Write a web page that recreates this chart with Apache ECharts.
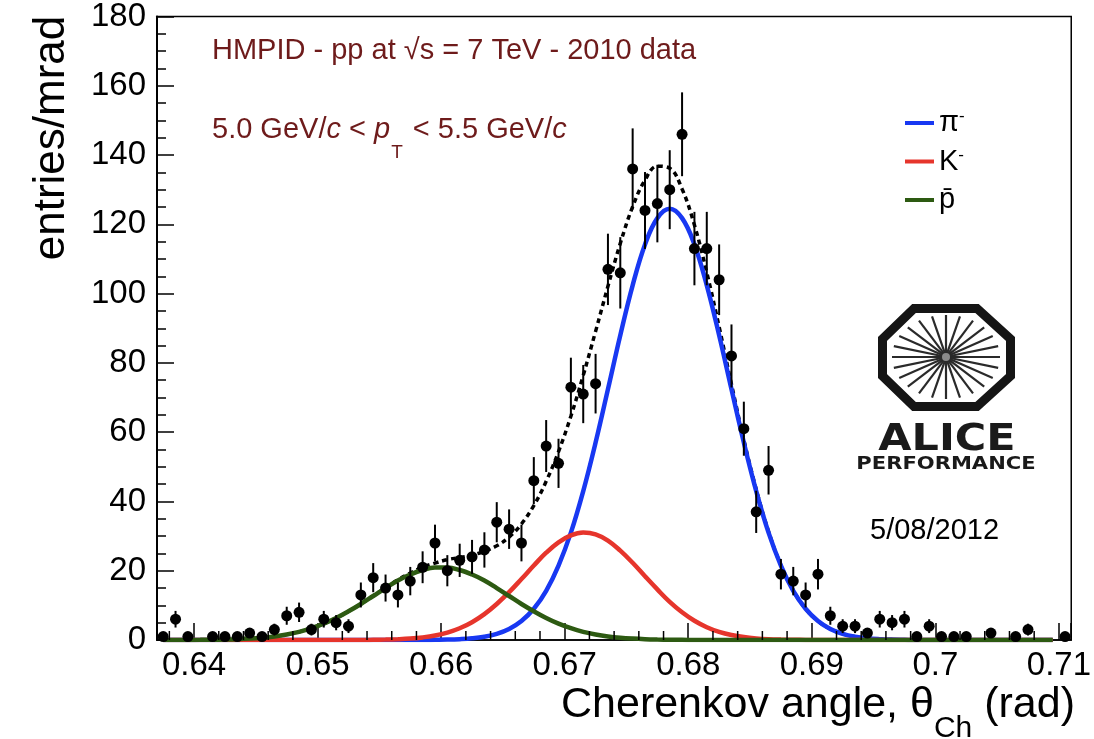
<!DOCTYPE html>
<html><head><meta charset="utf-8">
<script src="https://cdn.jsdelivr.net/npm/echarts@6/dist/echarts.min.js"></script>
<style>html,body{margin:0;padding:0;background:#fff}#c{width:1094px;height:739px}</style>
</head><body><div id="c"></div>
<script>
// Bin centres (rad), 1 mrad bins
const binCenters = [0.6375,0.6385,0.6395,0.6405,0.6415,0.6425,0.6435,0.6445,0.6455,0.6465,
  0.6475,0.6485,0.6495,0.6505,0.6515,0.6525,0.6535,0.6545,0.6555,0.6565,
  0.6575,0.6585,0.6595,0.6605,0.6615,0.6625,0.6635,0.6645,0.6655,0.6665,
  0.6675,0.6685,0.6695,0.6705,0.6715,0.6725,0.6735,0.6745,0.6755,0.6765,
  0.6775,0.6785,0.6795,0.6805,0.6815,0.6825,0.6835,0.6845,0.6855,0.6865,
  0.6875,0.6885,0.6895,0.6905,0.6915,0.6925,0.6935,0.6945,0.6955,0.6965,
  0.6975,0.6985,0.6995,0.7005,0.7015,0.7025,0.7035,0.7045,0.7055,0.7065,
  0.7075,0.7085,0.7095,0.7105];
// entries per bin
const counts = [1,6,1,0,1,1,1,2,1,3,
  7,8,3,6,5,4,13,18,15,13,
  17,21,28,20,23,24,26,34,32,28,
  46,56,51,73,71,74,107,106,136,124,
  126,130,146,113,113,104,82,61,37,49,
  19,17,13,19,7,4,4,2,6,5,
  6,1,4,1,1,1,0,2,0,1,
  3,0,0,1];
// statistical errors
const errors = [1,2.4,1,0,1,1,1,1.4,1,1.7,
  2.6,2.8,1.7,2.4,2.2,2,3.6,4.2,3.9,3.6,
  4.1,4.6,5.3,4.5,4.8,4.9,5.1,5.8,5.7,5.3,
  6.8,7.5,7.1,8.5,8.4,8.6,10.3,10.3,11.7,11.1,
  11.2,11.4,12.1,10.6,10.6,10.2,9.1,7.8,6.1,7,
  4.4,4.1,3.6,4.4,2.6,2,2,1.4,2.4,2.2,
  2.4,1,2,1,1,1,0,1.4,0,1,
  1.7,0,0,1];
// fitted curves read at the first 73 bin centres
const fitPion = [0,0,0,0,0,0,0,0,0,0,
  0,0,0,0,0,0,0,0,0,0,
  0,0,0.05,0.11,0.24,0.48,0.94,1.77,3.18,5.47,
  9.01,14.2,21.5,31.0,43.0,57.0,72.4,88.0,102.4,114.2,
  121.8,124.5,121.8,114.2,102.4,88.0,72.4,57.0,43.0,31.0,
  21.5,14.2,9.01,5.47,3.18,1.77,0.94,0.48,0.24,0.11,
  0.05,0,0,0,0,0,0,0,0,0,
  0,0,0];
const fitKaon = [0,0,0,0,0,0,0,0,0,0,
  0,0,0,0,0,0,0,0.05,0.11,0.22,
  0.41,0.75,1.29,2.14,3.39,5.14,7.47,10.4,13.8,17.6,
  21.5,25.2,28.2,30.2,31.0,30.5,28.7,25.8,22.3,18.4,
  14.6,11.0,8.0,5.56,3.70,2.35,1.43,0.84,0.47,0.25,
  0.13,0.06,0.03,0,0,0,0,0,0,0,
  0,0,0,0,0,0,0,0,0,0,
  0,0,0];
const fitProton = [0,0.01,0.02,0.04,0.07,0.13,0.23,0.40,0.65,1.03,
  1.59,2.36,3.40,4.72,6.36,8.29,10.4,12.7,15.0,17.2,
  18.9,20.2,20.9,20.9,20.2,18.9,17.2,15.0,12.7,10.4,
  8.29,6.36,4.72,3.40,2.36,1.59,1.03,0.65,0.40,0.23,
  0.13,0.07,0.04,0.02,0,0,0,0,0,0,
  0,0,0,0,0,0,0,0,0,0,
  0,0,0,0,0,0,0,0,0,0,
  0,0,0];
const fitTotal = [0,0.01,0.02,0.04,0.07,0.13,0.23,0.40,0.65,1.03,
  1.59,2.36,3.40,4.72,6.36,8.29,10.4,12.75,15.1,17.4,
  19.3,21.0,22.2,23.2,23.8,24.5,25.6,27.2,29.7,33.5,
  38.8,45.8,54.4,64.6,76.4,89.1,102.1,114.5,125.1,132.8,
  136.8,136.2,130.2,119.8,106.1,90.4,73.8,57.8,43.5,31.3,
  21.6,14.3,9.0,5.47,3.18,1.77,0.94,0.48,0.24,0.11,
  0.05,0,0,0,0,0,0,0,0,0,
  0,0,0];
const xTickLabels = ['0.64','0.65','0.66','0.67','0.68','0.69','0.7','0.71'];
const xMinorTicks = [0.638,0.642,0.644,0.646,0.648,0.652,0.654,0.656,0.658,0.662,0.664,0.666,0.668,
  0.672,0.674,0.676,0.678,0.682,0.684,0.686,0.688,0.692,0.694,0.696,0.698,0.702,0.704,0.706,0.708];
const legendNames = {pi:'{m|π}{sup|-}', K:'{m|K}{sup|-}', pbar:'{m|p̄}'};

const curve = arr => arr.map((v, i) => [binCenters[i], v]);
const points = binCenters.map((x, i) => [x, counts[i], errors[i]]).filter(d => d[1] > 0);

const FONT = 'Liberation Sans';
const maroon = '#6e1b1b';

// ALICE logo spokes (decoration)
const logoCx = 946, logoCy = 357;
const spokes = [];
for (let k = 0; k < 24; k++) {
  const a = k * Math.PI / 12;
  spokes.push({type:'line', silent:true, shape:{x1:logoCx + 3*Math.cos(a), y1:logoCy + 3*Math.sin(a), x2:logoCx + 54*Math.cos(a), y2:logoCy + 42*Math.sin(a)},
    style:{stroke:'#2a2a2a', lineWidth:2.2}});
}

const chart = echarts.init(document.getElementById('c'), null, {renderer:'canvas'});
chart.setOption({
  animation: false,
  backgroundColor: '#ffffff',
  textStyle: {fontFamily: FONT},
  grid: {left:157, right:21, top:16, bottom:99, show:true, borderColor:'#000', borderWidth:1.5},
  xAxis: {
    type:'value', min:0.637, max:0.711, splitNumber:7, minInterval:0.01, maxInterval:0.01,
    axisLine:{show:true, onZero:false, lineStyle:{color:'#000', width:1.5}},
    axisTick:{show:true, inside:true, length:17, lineStyle:{color:'#000', width:1.5}},
    minorTick:{show:false}, splitLine:{show:false},
    axisLabel:{margin:9, fontSize:33, color:'#000', fontFamily:FONT,
      formatter: v => {
        const r = (v - 0.64) * 100, k = Math.round(r);
        if (Math.abs(r - k) > 1e-6 || k < 0 || k >= xTickLabels.length) return '';
        return xTickLabels[k];
      }}
  },
  yAxis: {
    type:'value', min:0, max:180, interval:20,
    axisLine:{show:true, lineStyle:{color:'#000', width:2}},
    axisTick:{show:true, inside:true, length:17, lineStyle:{color:'#000', width:1.5}},
    minorTick:{show:true, splitNumber:4, length:9, lineStyle:{color:'#000', width:1.5}},
    splitLine:{show:false},
    axisLabel:{margin:11, fontSize:33, color:'#000', fontFamily:FONT}
  },
  legend: {
    data:['pi','K','pbar'], orient:'vertical', left:900, top:103, itemWidth:29, itemHeight:4, itemGap:8.5,
    icon:'rect', selectedMode:false,
    formatter: n => legendNames[n],
    textStyle:{color:'#000', fontFamily:FONT, fontSize:29, lineHeight:30,
      rich:{m:{fontSize:29, lineHeight:30, fontFamily:FONT, color:'#000'},
            sup:{fontSize:17, lineHeight:14, verticalAlign:'top', fontFamily:FONT, color:'#000'}}}
  },
  series: [
    {type:'line', name:'total', data:curve(fitTotal), showSymbol:false, smooth:0.4, z:2, silent:true,
      lineStyle:{color:'#000', width:3.5, type:[5,4]}, itemStyle:{color:'#000'}},
    {type:'line', name:'pi', data:curve(fitPion), showSymbol:false, smooth:0.4, z:3, silent:true,
      lineStyle:{color:'#1838f2', width:4.5}, itemStyle:{color:'#1838f2'}},
    {type:'line', name:'K', data:curve(fitKaon), showSymbol:false, smooth:0.4, z:4, silent:true,
      lineStyle:{color:'#e6352c', width:4.5}, itemStyle:{color:'#e6352c'}},
    {type:'line', name:'pbar', data:curve(fitProton), showSymbol:false, smooth:0.4, z:5, silent:true,
      lineStyle:{color:'#2d5a12', width:4.5}, itemStyle:{color:'#2d5a12'}},
    {type:'custom', name:'minor', data:xMinorTicks.map(v => [v, 0]), z:6, silent:true, clip:false,
      renderItem:(p, api) => {
        const c = api.coord([api.value(0), 0]);
        return {type:'line', shape:{x1:c[0], y1:c[1], x2:c[0], y2:c[1]-9}, style:{stroke:'#000', lineWidth:1.5}};
      }},
    {type:'custom', name:'data', data:points, z:10, silent:true,
      renderItem:(p, api) => {
        const x = api.value(0), y = api.value(1), e = api.value(2);
        const c = api.coord([x, y]), t = api.coord([x, y + e]), b = api.coord([x, Math.max(0, y - e)]);
        return {type:'group', children:[
          {type:'line', shape:{x1:c[0], y1:t[1], x2:c[0], y2:b[1]}, style:{stroke:'#000', lineWidth:2}},
          {type:'circle', shape:{cx:c[0], cy:c[1], r:5.5}, style:{fill:'#000'}}
        ]};
      }}
  ],
  graphic: [
    {type:'text', x:212, y:36, silent:true, style:{text:'HMPID - pp at √s = 7 TeV - 2010 data', fill:maroon,
      font:'29px "Liberation Sans"', align:'left', verticalAlign:'top'}},
    {type:'text', x:212, y:115, silent:true, style:{
      text:'{n|5.0 GeV/}{i|c}{n| < }{i|p}{s|T}{n| < 5.5 GeV/}{i|c}', fill:maroon, align:'left', verticalAlign:'top',
      font:'29px "Liberation Sans"',
      rich:{n:{fontSize:29, fontFamily:FONT, lineHeight:30, verticalAlign:'top', fill:maroon},
            i:{fontSize:29, fontFamily:FONT, fontStyle:'italic', lineHeight:30, verticalAlign:'top', fill:maroon},
            s:{fontSize:19, fontFamily:FONT, lineHeight:19, verticalAlign:'top', padding:[28,2,0,1], fill:maroon}}}},
    {type:'text', x:1075, y:684, silent:true, style:{
      text:'{t|Cherenkov angle, θ}{s|Ch}{t| (rad)}', fill:'#000', align:'right', verticalAlign:'top',
      font:'43px "Liberation Sans"',
      rich:{t:{fontSize:43, fontFamily:FONT, lineHeight:43, verticalAlign:'top', fill:'#000'},
            s:{fontSize:30, fontFamily:FONT, lineHeight:30, verticalAlign:'top', padding:[30,0,0,0], fill:'#000'}}}},
    {type:'text', x:52, y:138, rotation:Math.PI/2, silent:true, style:{text:'entries/mrad', fill:'#000',
      font:'44px "Liberation Sans"', align:'center', verticalAlign:'middle'}},
    {type:'text', x:870, y:516, silent:true, style:{text:'5/08/2012', fill:'#000', font:'29px "Liberation Sans"', align:'left', verticalAlign:'top'}},
    {type:'polygon', silent:true, shape:{points:[[914,308.5],[977,308.5],[1010.5,339],[1010.5,376],[977,406.5],[914,406.5],[882.5,376],[882.5,339]]},
      style:{fill:null, stroke:'#151515', lineWidth:9, lineJoin:'miter'}},
    {type:'group', silent:true, children:spokes},
    {type:'circle', silent:true, shape:{cx:logoCx, cy:logoCy, r:4}, style:{fill:'#8a8a8a'}},
    {type:'text', x:947, y:422, scaleX:1.16, silent:true, style:{text:'ALICE', fill:'#1a1a1a', font:'bold 37px "DejaVu Sans"', align:'center', verticalAlign:'top'}},
    {type:'text', x:946, y:455, scaleX:1.17, silent:true, style:{text:'PERFORMANCE', fill:'#1a1a1a', font:'bold 18px "DejaVu Sans"', align:'center', verticalAlign:'top'}}
  ]
});
</script>
</body></html>
